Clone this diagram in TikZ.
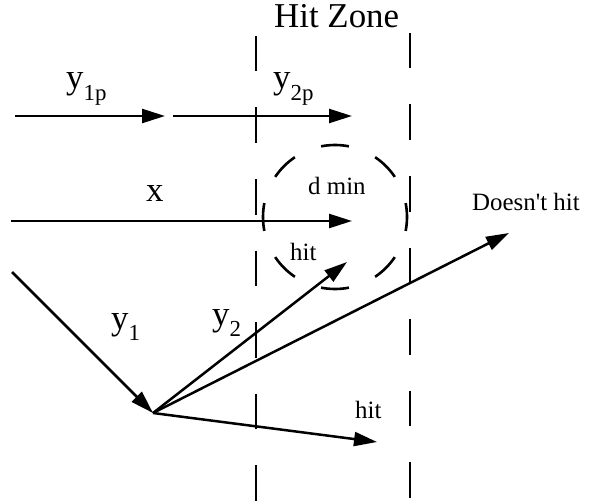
\documentclass[tikz,border=0pt]{standalone}
\usepackage{fontspec}
\setmainfont{Liberation Serif}
\usetikzlibrary{arrows.meta}
\newcommand{\bigfont}{\fontsize{35}{40}\selectfont}
\newcommand{\smallfont}{\fontsize{25}{30}\selectfont}
\newcommand{\lsub}[1]{\raisebox{-0.34em}{\fontsize{23}{23}\selectfont #1}}
\begin{document}
\begin{tikzpicture}[x=1bp,y=-1bp,
  vec/.style={line width=2.5bp,-{Triangle[length=23bp,width=14bp]}},
  zone/.style={line width=2.7bp,dash pattern=on 35.5bp off 36bp},
  ring/.style={line width=2.6bp,dash pattern=on 28bp off 28.55bp,dash phase=14bp},
  big/.style={font=\bigfont,inner sep=0pt,anchor=base west},
  small/.style={font=\smallfont,inner sep=0pt,anchor=base west}]
\useasboundingbox (0,0) rectangle (592,504);
% zone boundaries
\coordinate (zlt) at (256,36);  \coordinate (zlb) at (256,501);
\coordinate (zrt) at (410,33);  \coordinate (zrb) at (410,498);
\draw[zone] (zlt) -- (zlb);
\draw[zone] (zrt) -- (zrb);
% d min circle
\coordinate (c) at (335,217);
\draw[ring] (c) circle [radius=72bp];
% endpoints
\coordinate (a1) at (15,116);  \coordinate (a2) at (165,116);
\coordinate (b1) at (173,116); \coordinate (b2) at (352,116);
\coordinate (x1) at (11,221);  \coordinate (x2) at (352,221);
\coordinate (y1s) at (12,272);
\coordinate (o) at (153,413);
\coordinate (h1) at (347,262);
\coordinate (dh) at (509,233);
\coordinate (h2) at (377,442);
% vectors
\draw[vec] (a1) -- (a2);
\draw[vec] (b1) -- (b2);
\draw[vec] (x1) -- (x2);
\draw[vec] (y1s) -- (o);
\draw[vec] (o) -- (h1);
\draw[vec] (o) -- (dh);
\draw[vec] (o) -- (h2);
% labels
\node[big] (hz) at (274,28) {Hit Zone};
\node[big] (ly1p) at (66,89) {y\lsub{1p}};
\node[big] (ly2p) at (273,89) {y\lsub{2p}};
\node[big] (lx) at (146,202) {x};
\node[big] (ly1) at (111,329) {y\lsub{1}};
\node[big] (ly2) at (212,325) {y\lsub{2}};
\node[small] (ldmin) at (308,195) {d min};
\node[small] (lhit1) at (290,260) {hit};
\node[small] (ldh) at (472,211) {Doesn\textquotesingle t hit};
\node[small] (lhit2) at (355,418) {hit};
\end{tikzpicture}
\end{document}
